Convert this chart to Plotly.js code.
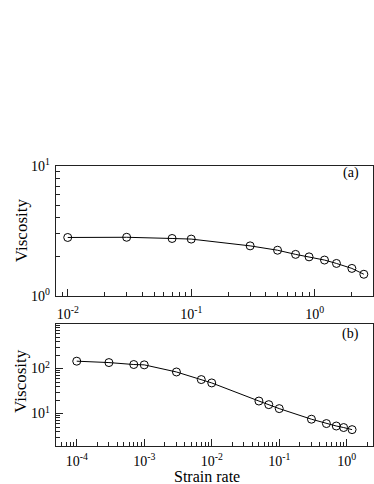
<!DOCTYPE html>
<html>
<head>
<meta charset="utf-8">
<script src="https://cdn.plot.ly/plotly-3.0.1.min.js"></script>
<style>html,body{margin:0;padding:0;background:#fff;}#chart{width:374px;height:484px;}</style>
</head>
<body>
<div id="chart"></div>
<script>
// Panel (a)
const rateA = [0.01, 0.03, 0.07, 0.1, 0.3, 0.5, 0.7, 0.9, 1.2, 1.5, 2.0, 2.5];
const viscA = [2.82, 2.83, 2.77, 2.74, 2.43, 2.25, 2.09, 2.0, 1.89, 1.78, 1.63, 1.47];
// Panel (b)
const rateB = [1e-4, 3e-4, 7e-4, 1e-3, 3e-3, 7e-3, 1e-2, 0.05, 0.07, 0.1, 0.3, 0.5, 0.7, 0.9, 1.2];
const viscB = [146, 136, 123, 121, 84, 57, 48, 19, 15.8, 12.9, 7.5, 6.0, 5.3, 4.9, 4.4];
// Tick exponents (labels 10^n)
const xExpA = [-2, -1, 0];
const yExpA = [0, 1];
const xExpB = [-4, -3, -2, -1, 0];
const yExpB = [1, 2];
const panelLabels = ['(a)', '(b)'];
const xTitle = 'Strain rate';
const yTitle = 'Viscosity';

function minorTicks(lo, hi) {
  const v = [];
  for (let e = lo; e <= hi; e++) for (let m = 2; m <= 9; m++) v.push(m * Math.pow(10, e));
  return v;
}
const tv = exps => exps.map(e => Math.pow(10, e));
const tt = exps => exps.map(e => '10<sup>' + (e < 0 ? '-' + (-e) : e) + '</sup>');

const FONT = "'Liberation Serif', 'Times New Roman', serif";
const LC = '#222';

function axisBase(exps, extra) {
  return Object.assign({
    type: 'log',
    showline: true, mirror: true, linecolor: LC, linewidth: 1.2,
    ticks: 'inside', ticklen: 7, tickwidth: 1, tickcolor: LC,
    showgrid: false, zeroline: false,
    tickmode: 'array', tickvals: tv(exps), ticktext: tt(exps),
    tickfont: {family: FONT, size: 14, color: '#000'}
  }, extra);
}

const traceStyle = {
  mode: 'lines+markers',
  line: {color: '#000', width: 1},
  marker: {symbol: 'circle-open', size: 8, color: '#000', line: {width: 1, color: '#000'}},
  showlegend: false
};

const data = [
  Object.assign({x: rateA, y: viscA, xaxis: 'x', yaxis: 'y'}, traceStyle),
  Object.assign({x: rateB, y: viscB, xaxis: 'x2', yaxis: 'y2'}, traceStyle)
];

const layout = {
  width: 374, height: 484,
  margin: {l: 56, r: 1, t: 166, b: 38},
  paper_bgcolor: '#fff', plot_bgcolor: '#fff',
  font: {family: FONT, color: '#000'},
  xaxis: axisBase(xExpA, {domain: [0, 1], range: [-2.095, 0.472], anchor: 'y', ticklabelstandoff: 5,
    minor: {tickvals: minorTicks(-3, 0), ticks: 'inside', ticklen: 4, tickcolor: LC, showgrid: false}}),
  yaxis: axisBase(yExpA, {domain: [0.5357, 1], range: [0, 1], anchor: 'x', ticklabelstandoff: 2,
    minor: {tickvals: minorTicks(0, 0), ticks: 'inside', ticklen: 4, tickcolor: LC, showgrid: false}}),
  xaxis2: axisBase(xExpB, {domain: [0, 1], range: [-4.307, 0.389], anchor: 'y2', ticklabelstandoff: 2,
    minor: {tickvals: minorTicks(-5, 0), ticks: 'inside', ticklen: 4, tickcolor: LC, showgrid: false}}),
  yaxis2: axisBase(yExpB, {domain: [0, 0.4357], range: [0.28, 2.99], anchor: 'x2', ticklabelstandoff: 2,
    minor: {tickvals: minorTicks(0, 2), ticks: 'inside', ticklen: 4, tickcolor: LC, showgrid: false}}),
  annotations: [
    {text: yTitle, xref: 'paper', yref: 'paper', x: -0.11, y: 0.771, textangle: -90, xanchor: 'center', yanchor: 'middle', showarrow: false, font: {family: FONT, size: 17, color: '#000'}},
    {text: yTitle, xref: 'paper', yref: 'paper', x: -0.11, y: 0.233, textangle: -90, xanchor: 'center', yanchor: 'middle', showarrow: false, font: {family: FONT, size: 17, color: '#000'}},
    {text: xTitle, xref: 'paper', yref: 'paper', x: 0.475, y: -0.11, xanchor: 'center', yanchor: 'middle', showarrow: false, font: {family: FONT, size: 16, color: '#000'}},
    {text: panelLabels[0], xref: 'paper', yref: 'paper', x: 0.93, y: 0.975, xanchor: 'center', yanchor: 'middle', showarrow: false, font: {family: FONT, size: 14, color: '#000'}},
    {text: panelLabels[1], xref: 'paper', yref: 'paper', x: 0.93, y: 0.4, xanchor: 'center', yanchor: 'middle', showarrow: false, font: {family: FONT, size: 14, color: '#000'}}
  ]
};

Plotly.newPlot('chart', data, layout, {displayModeBar: false, staticPlot: true});
</script>
</body>
</html>
